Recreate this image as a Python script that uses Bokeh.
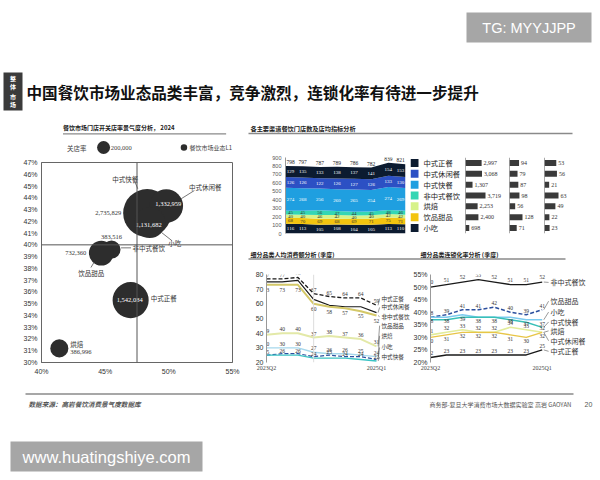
import numpy as np
from bokeh.plotting import figure
from bokeh.layouts import column, row
from bokeh.models import (Range1d, FactorRange, FixedTicker, NumeralTickFormatter,
                          Span, Label, ColumnDataSource)
from bokeh.core.properties import value
from bokeh.embed import file_html
from bokeh.resources import INLINE

CJK = "Noto Sans CJK SC"
SERIF = "Liberation Serif"
SANS = "Liberation Sans"

# ---------------- data ----------------
slide_title = "中国餐饮市场业态品类丰富，竞争激烈，连锁化率有待进一步提升"
slide_tag = ["整", "体", "市", "场"]
watermark_top = "TG: MYYJJPP"
watermark_bottom = "www.huatingshiye.com"
source_note = "数据来源：高岩餐饮消费景气度数据库"
credit_note = "商务部-复旦大学消费市场大数据实验室   高岩 GAOYAN"
page_no = "20"

scatter_title = "餐饮市场门店开关店率景气度分析， 2024"
scatter_cats = ["中式快餐", "中式休闲餐", "小吃", "非中式餐饮", "饮品甜品", "中式正餐", "烘焙"]
open_rate = [0.483, 0.498, 0.485, 0.455, 0.447, 0.470, 0.414]
close_rate = [0.427, 0.433, 0.419, 0.396, 0.393, 0.353, 0.312]
store_count = [2735829, 1332959, 1131682, 383516, 732360, 1542084, 386996]
legend_store_count = 200000
open_ticks = [0.40, 0.45, 0.50, 0.55]
close_ticks = [0.30, 0.31, 0.32, 0.33, 0.34, 0.35, 0.36, 0.37, 0.38,
               0.39, 0.40, 0.41, 0.42, 0.43, 0.44, 0.45, 0.46, 0.47]
open_ref = 0.475
close_ref = 0.40

store_title = "各主要渠道餐饮门店数及店均指标分析"
store_unit = "单位: (万)"
quarters = ["2023Q2", "2023Q3", "2023Q4", "2024Q1", "2024Q2", "2024Q3", "2024Q4", "2025Q1"]
stack_layers = ["小吃", "饮品甜品", "烘焙", "非中式餐饮", "中式快餐", "中式休闲餐", "中式正餐"]
stores_xiaochi = [116, 113, 105, 108, 104, 105, 113, 110]
stores_yinpin = [68, 70, 69, 68, 69, 71, 75, 71]
stores_hongbei = [40, 40, 46, 42, 40, 40, 42, 42]
stores_feizhong = [45, 45, 56, 47, 44, 45, 48, 46]
stores_kuaican = [274, 268, 256, 260, 265, 254, 274, 269]
stores_xiuxian = [126, 126, 122, 126, 127, 126, 133, 130]
stores_zhengcan = [129, 135, 133, 138, 137, 141, 154, 153]
store_ticks = [0, 100, 200, 300, 400, 500, 600, 700, 800, 900]

table_cats = ["中式正餐", "中式休闲餐", "中式快餐", "非中式餐饮", "烘焙", "饮品甜品", "小吃"]
revenue_per_store = [2997, 3068, 1307, 3719, 2253, 2400, 698]
orders_per_store = [94, 79, 87, 98, 56, 128, 71]
amount_per_order = [53, 56, 21, 63, 49, 22, 23]
table_heads = [("店均营收", "(天/元)"), ("店均笔数", "(天/笔)"), ("每笔金额", "(天/元)")]

spend_title = "细分品类人均消费额分析 (季度)"
spend_unit = "单位: 元"
spend_note = ["*大众点评数据收集口径,", "现指外卖和到店人均消费"]
spend_zhengcan = [77, 77, 78, 67, 65, 64, 64, 59]
spend_xiuxian = [75, 75, 76, 63, 59, 58, 58, 54]
spend_feizhong = [73, 73, 73, 60, 58, 57, 55, 52]
spend_yinpin = [39, 40, 40, 37, 38, 37, 36, 31]
spend_hongbei = [30, 30, 30, 27, 26, 26, 25, 24]
spend_xiaochi = [25, 26, 26, 24, 25, 24, 24, 22]
spend_kuaican = [25, 25, 25, 23, 23, 23, 22, 21]
spend_ticks = [20, 30, 40, 50, 60, 70, 80]

chain_title = "细分品类连锁化率分析 (季度)"
chain_unit = "单位: %"
chain_feizhong = [50, 51, 52, 53, 52, 51, 51, 52]
chain_yinpin = [38, 39, 41, 41, 42, 40, 39, 41]
chain_xiaochi = [38, 38, 39, 38, 38, 38, 37, 37]
chain_kuaican = [37, 37, 38, 38, 38, 37, 36, 34]
chain_hongbei = [31, 32, 33, 32, 32, 34, 33, 32]
chain_xiuxian = [30, 31, 32, 32, 32, 31, 30, 32]
chain_zhengcan = [22, 23, 23, 23, 23, 23, 23, 25]
chain_ticks = [20, 25, 30, 35, 40, 45, 50, 55]

# ---------------- styles ----------------
cat_colors = {"中式正餐": "#0c1b30", "中式休闲餐": "#2c50c4", "中式快餐": "#1f9fe0",
              "非中式餐饮": "#34d6b4", "烘焙": "#d6f28a", "饮品甜品": "#f3c40f", "小吃": "#0c1b30"}
light_text = {"小吃", "中式快餐", "中式休闲餐", "中式正餐"}
BUBBLE = "#2d2d2d"


def base_fig(w, h, xr, yr, bl=0, br=0, bt=0, bb=0, xt=None, yt=None):
    p = figure(width=w, height=h, x_range=xr, y_range=yr, x_axis_type=xt, y_axis_type=yt,
               output_backend="svg", toolbar_location=None,
               min_border_left=bl, min_border_right=br, min_border_top=bt, min_border_bottom=bb)
    p.outline_line_color = None
    p.grid.visible = False
    return p


def pix_fig(w, h):
    return base_fig(w, h, Range1d(0, w), Range1d(h, 0))


def put(p, x, y, s, size, color="#222", font=CJK, align="left", base="middle", style="normal",
        xo=0, yo=0):
    p.text(x=[x], y=[y], text=[s], text_font=value(font), text_font_size=f"{size}px",
           text_color=color, text_align=align, text_baseline=base, text_font_style=style,
           x_offset=xo, y_offset=yo)


def note(p, x, y, s, size, color="#222", font=CJK, align="left", base="middle", style="normal"):
    p.add_layout(Label(x=x, y=y, text=s, text_font=font, text_font_size=f"{size}px",
                       text_color=color, text_align=align, text_baseline=base,
                       text_font_style=style))


def style_axis(ax, size, color="#333", line="#888", standoff=3, font=SANS):
    ax.major_label_text_font_size = f"{size}px"
    ax.major_label_text_color = color
    ax.major_label_text_font = font
    ax.axis_line_color = line
    ax.major_tick_line_color = None
    ax.minor_tick_line_color = None
    ax.major_tick_out = 0
    ax.major_tick_in = 0
    ax.minor_tick_out = 0
    ax.minor_tick_in = 0
    ax.major_label_standoff = standoff


def mapper(fl, fr, ft, fb, xr, yr):
    def f(rx, ry):
        return (xr[0] + (rx - fl) / (fr - fl) * (xr[1] - xr[0]),
                yr[0] + (fb - ry) / (fb - ft) * (yr[1] - yr[0]))
    return f


# ---------------- header ----------------
header = pix_fig(600, 120)
header.quad(left=[466], right=[591], top=[12], bottom=[42], fill_color="#a6a6a6", line_color=None)
put(header, 528.5, 27.5, watermark_top, 14.5, "white", SANS, "center")
header.quad(left=[3], right=[22], top=[72], bottom=[110], fill_color="#3b3b3b", line_color=None)
for ch, yy in zip(slide_tag, [78, 85.5, 96, 103.5]):
    put(header, 12.5, yy, ch, 6, "white", CJK, "center", style="bold")
put(header, 26, 91, slide_title, 15.6, "#111", CJK, "left", style="bold")

# ---------------- scatter ----------------
def bubble_d(v):
    return 2 * 0.01453 * np.sqrt(v)

sh = pix_fig(240, 37)
put(sh, 27, 7, scatter_title, 6, "#222", style="bold")
sh.line([27, 232], [13.3, 13.3], line_color="#8a8a8a", line_width=1.3)
put(sh, 32, 27, "关店率", 6.5, "#444")
sh.scatter([78], [27], size=[bubble_d(legend_store_count)], fill_color=BUBBLE, line_color=None)
put(sh, 87, 27.5, f"{legend_store_count:,}", 6.5, "#444", SERIF)
sh.scatter([179], [27], size=[6.5], fill_color=BUBBLE, line_color=None)
put(sh, 186, 27, "餐饮市场业态L1", 6, "#444")

sp = base_fig(240, 235, Range1d(open_ticks[0], open_ticks[-1]),
              Range1d(close_ticks[0], close_ticks[-1]),
              bl=41, br=8, bt=5, bb=30, xt="linear", yt="linear")
sp.outline_line_color = "#666"
sp.xaxis.ticker = FixedTicker(ticks=open_ticks)
sp.yaxis.ticker = FixedTicker(ticks=close_ticks)
sp.xaxis.formatter = NumeralTickFormatter(format="0%")
sp.yaxis.formatter = NumeralTickFormatter(format="0%")
style_axis(sp.xaxis, 7, line="#666", standoff=5)
style_axis(sp.yaxis, 7, line="#666", standoff=4)
sp.add_layout(Span(location=open_ref, dimension="height", line_color="#555", line_width=1))
sp.add_layout(Span(location=close_ref, dimension="width", line_color="#555", line_width=1))
ssrc = ColumnDataSource(dict(x=open_rate, y=close_rate, d=[bubble_d(v) for v in store_count]))
sp.scatter("x", "y", size="d", source=ssrc, fill_color=BUBBLE, line_color=None)

px_x = 191 / (open_ticks[-1] - open_ticks[0])
px_y = 200 / (close_ticks[-1] - close_ticks[0])
leaders = {"中式快餐": (-12.8, -32.6, -9.4, -24.3), "中式休闲餐": (28.1, -15.5, 14.8, -7.2),
           "小吃": (11.4, 9.7, 22, 18), "非中式餐饮": (9.5, -1.7, 19.5, -1.7),
           "饮品甜品": (-7.4, 9.4, -10.4, 14.4)}
for c, (a, b, cc, d) in leaders.items():
    i = scatter_cats.index(c)
    sp.segment(x0=[open_rate[i] + a / px_x], y0=[close_rate[i] - b / px_y],
               x1=[open_rate[i] + cc / px_x], y1=[close_rate[i] - d / px_y],
               line_color="#555", line_width=0.8)
val_dx = [-26, 2, -1, 0, -15, -1, 11]
val_dy = [0, -2, 2, -13, 0, 0, 4]
val_align = ["right", "center", "center", "center", "right", "center", "left"]
name_dx = [-22, 39, 25, 21, -10, 20, 11]
name_dy = [-34, -19, 20, -2, 20, -2, -4]
name_align = ["center", "center", "center", "left", "center", "left", "left"]
val_white = {"中式休闲餐", "小吃", "中式正餐"}
for i, c in enumerate(scatter_cats):
    put(sp, open_rate[i], close_rate[i], f"{store_count[i]:,}", 6.5,
        "white" if c in val_white else "#333", SERIF, val_align[i], xo=val_dx[i], yo=val_dy[i])
    put(sp, open_rate[i], close_rate[i], c, 6.5, "#333", CJK, name_align[i],
        xo=name_dx[i], yo=name_dy[i])
note(sp, 0.5475, 0.283, "开店率", 6.5, "#444", CJK, "center")

# ---------------- stores area + table ----------------
strip1 = pix_fig(360, 17)
put(strip1, 10, 8, store_title, 6.2, "#222", style="bold")
strip1.line([8, 332], [13, 13], line_color="#8a8a8a", line_width=1.3)

layer_vals = [stores_xiaochi, stores_yinpin, stores_hongbei, stores_feizhong,
              stores_kuaican, stores_xiuxian, stores_zhengcan]
keys = [f"k{i}" for i in range(len(stack_layers))]
xq = list(range(len(quarters)))
asrc = ColumnDataSource(dict(x=xq, **{k: v for k, v in zip(keys, layer_vals)}))
ap = base_fig(170, 113, Range1d(0, len(quarters) - 1), Range1d(store_ticks[0], store_ticks[-1]),
              bl=45, br=5, bt=19, bb=17, xt=None, yt="linear")
ap.varea_stack(stackers=keys, x="x", color=[cat_colors[c] for c in stack_layers], source=asrc)
ap.yaxis.ticker = FixedTicker(ticks=store_ticks)
style_axis(ap.yaxis, 5.5, color="#555", line="#999", standoff=4)
xoff = [5] + [0] * (len(quarters) - 2) + [-5]
cum = np.zeros(len(quarters))
for c, vals in zip(stack_layers, layer_vals):
    v = np.array(vals, dtype=float)
    mid = cum + v / 2
    ap.text(x=xq, y=list(mid), text=[str(t) for t in vals], x_offset=xoff,
            text_font=value(SERIF), text_font_size="5px",
            text_color="white" if c in light_text else "#333",
            text_align="center", text_baseline="middle")
    cum = cum + v
ap.text(x=xq, y=list(cum + 45), text=[str(int(t)) for t in cum], x_offset=xoff,
        text_font=value(SERIF), text_font_size="5.5px", text_color="#222",
        text_align="center", text_baseline="middle")
amap = mapper(285, 405, 156, 233, (0, len(quarters) - 1), (store_ticks[0], store_ticks[-1]))
ux, uy = amap(258, 141)
note(ap, ux, uy, store_unit, 6, "#444")
_, qy = amap(0, 239)
note(ap, 0, qy, quarters[0], 5.5, "#444", SERIF, "center")
ex, _ = amap(409, 0)
note(ap, ex, qy, quarters[-1], 5.5, "#444", SERIF, "right")

rev_cats = table_cats[::-1]
lg = base_fig(53, 113, Range1d(0, 53), FactorRange(factors=rev_cats), bt=20, bb=13)
lg.rect(x=[4] * len(table_cats), y=table_cats, width=8, height=8, width_units="screen",
        height_units="screen", fill_color=[cat_colors[c] for c in table_cats], line_color=None)
lg.text(x=[13] * len(table_cats), y=table_cats, text=table_cats, text_font=value(CJK),
        text_font_size="7.3px", text_color="#222", text_align="left", text_baseline="middle")


def bar_fig(w, vals, scale, head):
    end = max(vals) * scale
    p = base_fig(w, 113, Range1d(0, end), FactorRange(factors=rev_cats), bl=2, bt=20, bb=13)
    p.hbar(y=table_cats, left=0, right=vals, height=0.55, fill_color="#3a3a3a", line_color=None)
    p.add_layout(Span(location=0, dimension="height", line_color="#555", line_width=1))
    p.text(x=vals, y=table_cats, text=[f"{v:,}" for v in vals], x_offset=2,
           text_font=value(SERIF), text_font_size="6px", text_color="#333",
           text_align="left", text_baseline="middle")
    m = mapper(0, w - 2, 157, 237, (0, end), (0, len(table_cats)))
    hx, hy1 = m(11, 140)
    _, hy2 = m(11, 147.7)
    note(p, hx, hy1, head[0], 6.2, "#333", CJK, "center")
    note(p, hx, hy2, head[1], 6.2, "#333", CJK, "center")
    return p

b1 = bar_fig(44, revenue_per_store, 2.1, table_heads[0])
b2 = bar_fig(35, orders_per_store, 2.54, table_heads[1])
b3 = bar_fig(58, amount_per_order, 4.0, table_heads[2])

# ---------------- line charts ----------------
strip2 = pix_fig(360, 12)
put(strip2, 10, 3.5, spend_title, 6, "#222", style="bold")
put(strip2, 180, 3.5, chain_title, 6, "#222", style="bold")
strip2.line([8, 325], [8.5, 8.5], line_color="#8a8a8a", line_width=1.3)


def line_fig(w, bl, bt, bb, x_end, ticks, specs, names_ry, name_rx, name_size, fmap, pct):
    p = base_fig(w, 130, Range1d(0, x_end), Range1d(ticks[0], ticks[-1]),
                 bl=bl, bt=bt, bb=bb, xt="linear", yt="linear")
    p.yaxis.ticker = FixedTicker(ticks=ticks)
    if pct:
        p.yaxis.major_label_overrides = {t: f"{t}%" for t in ticks}
    p.xaxis.ticker = FixedTicker(ticks=[0, len(quarters) - 1])
    p.xaxis.major_label_overrides = {0: quarters[0], len(quarters) - 1: quarters[-1]}
    style_axis(p.yaxis, 7, line="#999", standoff=3)
    style_axis(p.xaxis, 6, color="#444", line=None, standoff=2, font=SERIF)
    for name, vals, color, width, dash, off in specs:
        p.line(xq, vals, line_color=color, line_width=width, line_dash=dash)
    for name, vals, color, width, dash, off in specs:
        if off is not None:
            p.text(x=xq, y=vals, text=[str(v) for v in vals], y_offset=off,
                   text_font=value(SERIF), text_font_size="5.5px", text_color="#333",
                   text_align="center", text_baseline="middle")
    nx, _ = fmap(name_rx, 0)
    for (name, vals, color, width, dash, off), ry in zip(specs, names_ry):
        _, ny = fmap(0, ry)
        p.segment(x0=[len(quarters) - 1 + 0.1], y0=[vals[-1]], x1=[nx - 0.12], y1=[ny],
                  line_color="#555", line_width=0.6)
        p.text(x=[nx], y=[ny], text=[name], text_font=value(CJK), text_font_size=f"{name_size}px",
               text_color="#333", text_align="left", text_baseline="middle")
    return p

spend_specs = [("中式正餐", spend_zhengcan, "#1a1a1a", 1.3, "4 2", -4),
               ("中式休闲餐", spend_xiuxian, "#1a1a1a", 1.2, "solid", None),
               ("非中式餐饮", spend_feizhong, "#d4c868", 2.0, "solid", 5),
               ("饮品甜品", spend_yinpin, "#e3e9a8", 2.0, "solid", -4),
               ("烘焙", spend_hongbei, "#a6d8ec", 1.4, "solid", -4),
               ("小吃", spend_xiaochi, "#2b4f9e", 1.2, "4 2", -3),
               ("中式快餐", spend_kuaican, "#3cc4c4", 1.4, "solid", None)]
x_end1 = 144 / (110 / (len(quarters) - 1))
map1 = mapper(266, 410, 274, 363, (0, x_end1), (spend_ticks[0], spend_ticks[-1]))
l1 = line_fig(170, 26, 12, 29, x_end1, spend_ticks, spend_specs,
              [298.3, 307.3, 316.7, 325.7, 336, 347.7, 357.7], 381, 5.6, map1, False)
l1.add_layout(Span(location=3, dimension="height", line_color="#dddddd", line_width=1))
ux, uy = map1(270, 266)
note(l1, ux, uy, spend_unit, 6.5, "#444")
nx1, ny1 = map1(336, 380.5)
_, ny2 = map1(336, 384.5)
note(l1, nx1, ny1, spend_note[0], 4, "#555", CJK, "center")
note(l1, nx1, ny2, spend_note[1], 4, "#555", CJK, "center")

chain_specs = [("非中式餐饮", chain_feizhong, "#1a1a1a", 1.3, "solid", -5),
               ("饮品甜品", chain_yinpin, "#2b4f9e", 1.5, "4 2", -4),
               ("小吃", chain_xiaochi, "#7ccbef", 1.4, "solid", 4),
               ("中式快餐", chain_kuaican, "#38c0b8", 1.4, "solid", None),
               ("烘焙", chain_hongbei, "#e2ec9a", 1.6, "solid", -4),
               ("中式休闲餐", chain_xiuxian, "#e8c547", 1.4, "solid", 4),
               ("中式正餐", chain_zhengcan, "#1a1a1a", 1.4, "solid", -4)]
x_end2 = 170 / (111.7 / (len(quarters) - 1))
map2 = mapper(430, 600, 273, 362, (0, x_end2), (chain_ticks[0], chain_ticks[-1]))
l2 = line_fig(190, 20, 11, 30, x_end2, chain_ticks, chain_specs,
              [281, 300, 311, 321, 330, 340, 350.7], 550, 7, map2, True)
ux, uy = map2(420, 265)
note(l2, ux, uy, chain_unit, 6.5, "#444")

# ---------------- footer ----------------
footer = pix_fig(600, 88)
footer.line([25, 573], [1.5, 1.5], line_color="#8a8a8a", line_width=1.3)
put(footer, 28, 11.5, source_note, 6.6, "#555", CJK, style="bold italic")
put(footer, 429, 11.5, credit_note, 6, "#555", CJK)
put(footer, 588, 11.5, page_no, 7, "#555", SANS, "center")
footer.quad(left=[10], right=[202], top=[49], bottom=[79], fill_color="#a6a6a6", line_color=None)
put(footer, 106, 64, watermark_bottom, 16.5, "white", SANS, "center")

# ---------------- layout ----------------
scatter_col = column(sh, sp, spacing=0)
top_right = column(strip1, row(ap, lg, b1, b2, b3, spacing=0), spacing=0)
bottom_right = column(strip2, row(l1, l2, spacing=0), spacing=0)
right_col = column(top_right, bottom_right, spacing=0)
page = column(header, row(scatter_col, right_col, spacing=0), footer, spacing=0)

open("out.html", "w").write(file_html(page, INLINE))
